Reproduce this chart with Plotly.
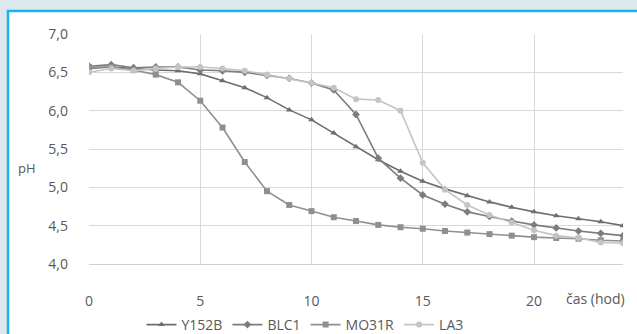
import plotly.graph_objects as go

hours = list(range(0, 25))
y152b = [6.55, 6.57, 6.55, 6.53, 6.52, 6.48, 6.39, 6.30, 6.17, 6.01, 5.88, 5.71, 5.53, 5.36, 5.21,
         5.08, 4.98, 4.89, 4.81, 4.74, 4.68, 4.63, 4.59, 4.55, 4.50]
blc1 = [6.58, 6.60, 6.56, 6.57, 6.57, 6.53, 6.52, 6.50, 6.46, 6.42, 6.36, 6.27, 5.95, 5.38, 5.12,
        4.90, 4.78, 4.68, 4.62, 4.56, 4.51, 4.47, 4.43, 4.40, 4.37]
mo31r = [6.57, 6.57, 6.53, 6.47, 6.37, 6.13, 5.78, 5.33, 4.95, 4.77, 4.69, 4.61, 4.56, 4.51, 4.48,
         4.46, 4.43, 4.41, 4.39, 4.37, 4.35, 4.34, 4.33, 4.31, 4.30]
la3 = [6.50, 6.55, 6.52, 6.55, 6.57, 6.57, 6.55, 6.52, 6.47, 6.42, 6.36, 6.30, 6.15, 6.14, 6.00,
       5.32, 4.97, 4.77, 4.64, 4.54, 4.44, 4.37, 4.34, 4.28, 4.27]

series = [
    ("Y152B", y152b, "#6e6e6e", "triangle-up"),
    ("BLC1", blc1, "#7d7d7d", "diamond"),
    ("MO31R", mo31r, "#8f8f8f", "square"),
    ("LA3", la3, "#c4c4c4", "circle"),
]

fig = go.Figure()
for name, vals, col, sym in series:
    fig.add_trace(go.Scatter(
        x=hours, y=vals, name=name, mode="lines+markers",
        line=dict(color=col, width=1.6),
        marker=dict(symbol=sym, size=6, color=col),
    ))

W, H = 637, 334
L, R, T, B = 89, 14, 34, 70
pw, ph = W - L - R, H - T - B

def px(x):
    return (x - L) / pw

def py(y):
    return (H - B - y) / ph

fig.update_layout(
    width=W, height=H,
    margin=dict(l=L, r=R, t=T, b=B, autoexpand=False),
    paper_bgcolor="#dde7ee",
    plot_bgcolor="white",
    separators=", ",
    font=dict(family="Open Sans, Liberation Sans, sans-serif", size=14, color="#595959"),
    showlegend=True,
    legend=dict(orientation="h", x=px(305), xanchor="center", y=py(325), yanchor="middle",
                font=dict(size=14, color="#595959"), bgcolor="rgba(0,0,0,0)",
                itemwidth=30, tracegroupgap=0),
    shapes=[dict(type="rect", xref="paper", yref="paper",
                 x0=px(8), x1=px(660), y0=py(11), y1=py(360),
                 fillcolor="white", line=dict(color="#1ab2ea", width=2.5), layer="below")],
    annotations=[
        dict(text="pH", xref="paper", yref="paper", x=px(27), y=py(168), showarrow=False,
             xanchor="center", yanchor="middle", font=dict(size=13, color="#595959")),
        dict(text="čas (hod)", xref="paper", yref="paper", x=px(595), y=py(298), showarrow=False,
             xanchor="center", yanchor="middle", font=dict(size=14, color="#595959")),
    ],
)
fig.update_xaxes(range=[0, 24], dtick=5, tick0=0, showgrid=True, gridcolor="#d9d9d9", gridwidth=1,
                 zeroline=False, showline=True, linecolor="#d0d0d0", ticks="",
                 ticklabelstandoff=24, tickfont=dict(size=14, color="#595959"))
fig.update_yaxes(range=[4.0, 7.0], dtick=0.5, tickformat=".1f", showgrid=True, gridcolor="#d9d9d9",
                 gridwidth=1, zeroline=False, showline=False, ticks="",
                 ticklabelstandoff=20, tickfont=dict(size=14, color="#595959"))

fig.write_html("out.html")
